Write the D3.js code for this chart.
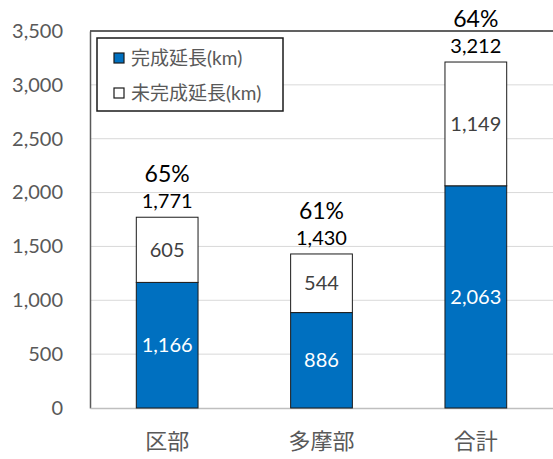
<!DOCTYPE html>
<html>
<head>
<meta charset="utf-8">
<script src="https://cdn.jsdelivr.net/npm/d3@7"></script>
<style>
  html, body { margin: 0; padding: 0; background: #fff; }
  svg { display: block; }
  text { font-family: Lato, "Noto Sans CJK JP", sans-serif; }
</style>
</head>
<body>
<svg id="chart" width="553" height="459"></svg>
<script>
// Road network length by area (km)
const categories = ["区部", "多摩部", "合計"];
const completed = [1166, 886, 2063];
const incomplete = [605, 544, 1149];
const totals = [1771, 1430, 3212];
const ratioLabels = ["65%", "61%", "64%"];
const yTicks = [0, 500, 1000, 1500, 2000, 2500, 3000, 3500];
const seriesNames = ["完成延長(km)", "未完成延長(km)"];

const W = 553, H = 459;
const m = { left: 90, right: 0, top: 31, bottom: 51 };
const svg = d3.select("#chart");
const fmt = d3.format(",");

const x = d3.scaleBand().domain(categories).range([m.left, W - m.right]).paddingInner(0.6).paddingOuter(0.3);
const y = d3.scaleLinear().domain([0, 3500]).range([H - m.bottom, m.top]);

// gridlines
svg.append("g").selectAll("line").data(yTicks.slice(1)).join("line")
  .attr("x1", m.left).attr("x2", W).attr("y1", d => y(d)).attr("y2", d => y(d))
  .attr("stroke", "#d9d9d9").attr("stroke-width", 1);

// y axis
const yAxis = svg.append("g").attr("transform", `translate(${m.left},0)`)
  .call(d3.axisLeft(y).tickValues(yTicks).tickFormat(fmt).tickSize(0).tickPadding(27));
yAxis.select(".domain").attr("stroke", "#595959").attr("stroke-width", 1.5);
yAxis.selectAll("text").attr("font-size", 20).attr("fill", "#595959");

// plot frame top
svg.append("line").attr("x1", m.left).attr("x2", W).attr("y1", y(3500)).attr("y2", y(3500))
  .attr("stroke", "#333").attr("stroke-width", 1.5);

// x axis
const xAxis = svg.append("g").attr("transform", `translate(0,${y(0)})`)
  .call(d3.axisBottom(x).tickSize(0).tickPadding(25));
xAxis.select(".domain").attr("stroke", "#bfbfbf").attr("stroke-width", 1.5);
xAxis.selectAll("text").attr("font-size", 22).attr("fill", "#595959");

const rows = categories.map((c, i) => ({ c, done: completed[i], todo: incomplete[i], total: totals[i], ratio: ratioLabels[i] }));

// completed segment
svg.append("g").selectAll("rect").data(rows).join("rect")
  .attr("x", d => x(d.c)).attr("width", x.bandwidth())
  .attr("y", d => y(d.done)).attr("height", d => y(0) - y(d.done))
  .attr("fill", "#0070c0").attr("stroke", "#1a1a1a").attr("stroke-width", 1);

// incomplete segment
svg.append("g").selectAll("rect").data(rows).join("rect")
  .attr("x", d => x(d.c)).attr("width", x.bandwidth())
  .attr("y", d => y(d.done + d.todo)).attr("height", d => y(d.done) - y(d.done + d.todo))
  .attr("fill", "#fff").attr("stroke", "#1a1a1a").attr("stroke-width", 1);

const cx = d => x(d.c) + x.bandwidth() / 2;

// segment labels
svg.append("g").selectAll("text").data(rows).join("text")
  .attr("x", cx).attr("y", d => y(d.done / 2)).attr("dy", "0.35em")
  .attr("text-anchor", "middle").attr("font-size", 20).attr("fill", "#fff")
  .text(d => fmt(d.done));
svg.append("g").selectAll("text").data(rows).join("text")
  .attr("x", cx).attr("y", d => y(d.done + d.todo / 2)).attr("dy", "0.35em")
  .attr("text-anchor", "middle").attr("font-size", 20).attr("fill", "#404040")
  .text(d => fmt(d.todo));

// totals and completion ratios
svg.append("g").selectAll("text").data(rows).join("text")
  .attr("x", cx).attr("y", d => y(d.total) - 16).attr("dy", "0.35em")
  .attr("text-anchor", "middle").attr("font-size", 20).attr("fill", "#000")
  .text(d => fmt(d.total));
svg.append("g").selectAll("text").data(rows).join("text")
  .attr("x", cx).attr("y", d => y(d.total) - 43).attr("dy", "0.35em")
  .attr("text-anchor", "middle").attr("font-size", 23).attr("fill", "#000")
  .text(d => d.ratio);

// legend
const lg = svg.append("g").attr("transform", "translate(97,38)");
lg.append("rect").attr("width", 186).attr("height", 73)
  .attr("fill", "#fff").attr("stroke", "#1a1a1a").attr("stroke-width", 1.5);
const fills = ["#0070c0", "#fff"];
seriesNames.forEach((name, i) => {
  const row = lg.append("g").attr("transform", `translate(17,${20 + i * 35})`);
  row.append("rect").attr("x", 0).attr("y", -5).attr("width", 10).attr("height", 10)
    .attr("fill", fills[i]).attr("stroke", "#1a1a1a").attr("stroke-width", 1.2);
  row.append("text").attr("x", 17).attr("y", 0).attr("dy", "0.35em")
    .attr("font-size", 19).attr("fill", "#595959").text(name);
});
</script>
</body>
</html>
